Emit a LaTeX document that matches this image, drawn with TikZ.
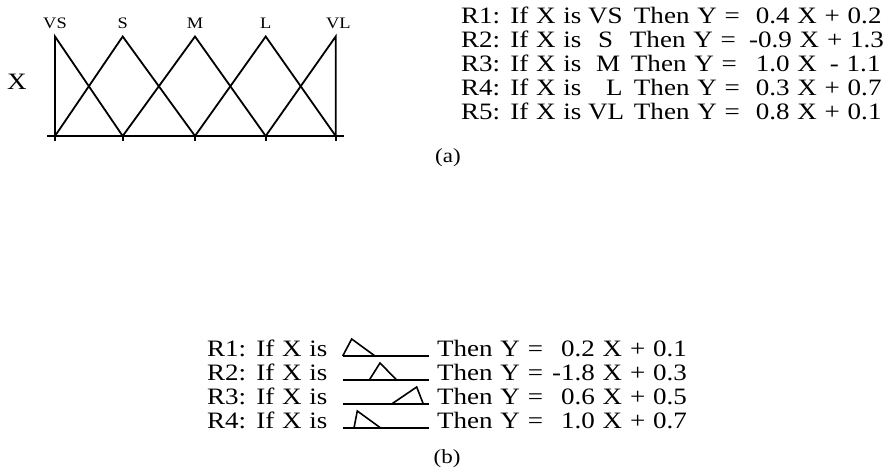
\documentclass[tikz,border=0pt]{standalone}
\usepackage{fontspec}
\setmainfont{Liberation Serif}[FakeStretch=1.15, WordSpace=1.15]
\begin{document}
\begin{tikzpicture}[x=1pt,y=-1pt,
  mfline/.style={line width=1.8pt, line join=miter, line cap=butt},
  tri/.style={line width=1.6pt, line join=miter},
  rule/.style={anchor=base west, inner sep=0pt, font=\fontsize{23.5}{27}\selectfont},
  ruleE/.style={rule, anchor=base east},
  captxt/.style={anchor=center, inner sep=0pt, font=\fontsize{20}{24}\selectfont},
  lbl/.style={anchor=base, inner sep=0pt, font=\fontsize{16}{18}\selectfont}]
\useasboundingbox (0,0) rectangle (895,469);

% ---------- membership functions (a) ----------
\foreach \i/\x in {1/55,2/122.7,3/195,4/265.7,5/335.7}{
  \coordinate (p\i) at (\x,136);
  \coordinate (t\i) at (\x,36.5);
}
\coordinate (a0) at (47,136);
\coordinate (a1) at (344,136);
\draw[mfline] (a0) -- (a1);
\draw[mfline] (p1) -- (t1) -- (p2);
\draw[mfline] (p1) -- (t2) -- (p3);
\draw[mfline] (p2) -- (t3) -- (p4);
\draw[mfline] (p3) -- (t4) -- (p5);
\draw[mfline] (p4) -- (t5) -- (p5);
\foreach \i in {1,...,5}{ \draw[mfline] (p\i) -- ++(0,4.5); }

\node[lbl] (lVS) at (55,28) {VS};
\node[lbl] (lS)  at (122.7,28) {S};
\node[lbl] (lM)  at (195,28) {M};
\node[lbl] (lL)  at (265.7,28) {L};
\node[lbl] (lVL) at (338.3,28) {VL};
\node[rule, anchor=base] (lX) at (17,89) {X};

% ---------- rules (a) ----------
\node[rule]  (a1r) at (461,23) {R1: If X is};
\node[rule]  (a1t) at (588,23) {VS};
\node[ruleE] (a1h) at (740,23) {Then Y =};
\node[rule]  (a1c) at (755.7,23) {0.4 X + 0.2};

\node[rule]  (a2r) at (461,47) {R2: If X is};
\node[rule]  (a2t) at (598,47) {S};
\node[ruleE] (a2h) at (736,47) {Then Y =};
\node[rule]  (a2c) at (749,47) {-0.9 X + 1.3};

\node[rule]  (a3r) at (461,71) {R3: If X is};
\node[rule]  (a3t) at (596,71) {M};
\node[ruleE] (a3h) at (737,71) {Then Y =};
\node[rule]  (a3c) at (755.7,71) {1.0 X\hspace{13pt}- 1.1};

\node[rule]  (a4r) at (461,95) {R4: If X is};
\node[rule]  (a4t) at (606,95) {L};
\node[ruleE] (a4h) at (740,95) {Then Y =};
\node[rule]  (a4c) at (755.7,95) {0.3 X + 0.7};

\node[rule]  (a5r) at (461,119) {R5: If X is};
\node[rule]  (a5t) at (588,119) {VL};
\node[ruleE] (a5h) at (740,119) {Then Y =};
\node[rule]  (a5c) at (755.7,119) {0.8 X + 0.1};

\node[captxt] (capa) at (448,158) {(a)};

% ---------- rules (b) ----------
\node[rule] (b1r) at (207,356) {R1: If X is};
\node[rule] (b1h) at (437,356) {Then Y =};
\node[rule] (b1c) at (561,356) {0.2 X + 0.1};

\node[rule] (b2r) at (207,380) {R2: If X is};
\node[rule] (b2h) at (437,380) {Then Y =};
\node[rule] (b2c) at (552,380) {-1.8 X + 0.3};

\node[rule] (b3r) at (207,404) {R3: If X is};
\node[rule] (b3h) at (437,404) {Then Y =};
\node[rule] (b3c) at (561,404) {0.6 X + 0.5};

\node[rule] (b4r) at (207,428) {R4: If X is};
\node[rule] (b4h) at (437,428) {Then Y =};
\node[rule] (b4c) at (561,428) {1.0 X + 0.7};

% small membership glyphs
\draw[tri] (342.7,356) -- (429,356);
\draw[tri] (342.7,356) -- (351.7,339) -- (375,356);
\draw[tri] (342.7,380) -- (429,380);
\draw[tri] (369.3,380) -- (380,363) -- (396.7,380);
\draw[tri] (342.7,404) -- (429,404);
\draw[tri] (391.7,404) -- (416.7,387) -- (423.3,404);
\draw[tri] (342.7,428) -- (429,428);
\draw[tri] (354,428) -- (357.3,411) -- (380.7,428);

\node[captxt] (capb) at (447,459) {(b)};
\end{tikzpicture}
\end{document}
